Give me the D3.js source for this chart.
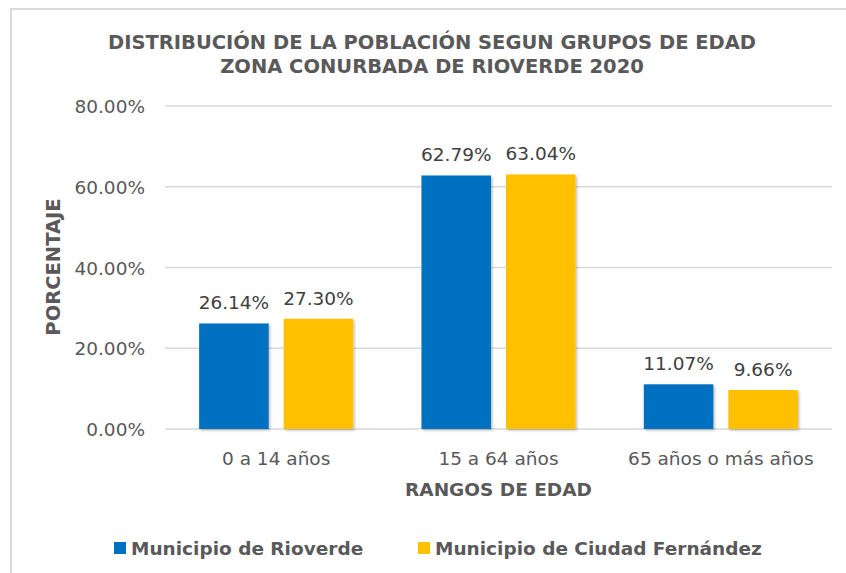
<!DOCTYPE html>
<html>
<head>
<meta charset="utf-8">
<script src="https://cdn.jsdelivr.net/npm/d3@7"></script>
<style>
  body { margin: 0; background: #fff; }
  text { font-family: "DejaVu Sans", sans-serif; }
</style>
</head>
<body>
<script>
// data
const categories = ['0 a 14 años', '15 a 64 años', '65 años o más años'];
const seriesNames = ['Municipio de Rioverde', 'Municipio de Ciudad Fernández'];
const rioverde = [26.14, 62.79, 11.07];
const ciudadFernandez = [27.30, 63.04, 9.66];
const yTicks = [0, 20, 40, 60, 80];
const colors = ['#0070C0', '#FFC000'];

const W = 846, H = 573;
const margin = { left: 165, right: 14, top: 106, bottom: 144 };

const svg = d3.select('body').append('svg')
    .attr('width', W)
    .attr('height', H);

// chart frame
svg.append('path')
    .attr('d', `M11,${H + 2} L11,9 L${W + 2},9`)
    .attr('fill', 'none')
    .attr('stroke', '#d9d9d9')
    .attr('stroke-width', 2);

const defs = svg.append('defs');
defs.append('filter').attr('id', 'shadow')
    .attr('x', '-10%').attr('y', '-10%').attr('width', '130%').attr('height', '130%')
  .append('feDropShadow')
    .attr('dx', 1.5).attr('dy', 1.5).attr('stdDeviation', 1.2)
    .attr('flood-color', '#000').attr('flood-opacity', 0.25);

const x0 = d3.scaleBand()
    .domain(categories)
    .range([margin.left, W - margin.right])
    .paddingInner(0.307)
    .paddingOuter(0.1535);

const x1 = d3.scaleBand()
    .domain(seriesNames)
    .range([0, x0.bandwidth()])
    .paddingInner(0.1775);

const y = d3.scaleLinear()
    .domain([0, 80])
    .range([H - margin.bottom, margin.top]);

// gridlines
svg.append('g')
  .selectAll('line')
  .data(yTicks)
  .join('line')
    .attr('x1', margin.left)
    .attr('x2', W - margin.right)
    .attr('y1', d => y(d))
    .attr('y2', d => y(d))
    .attr('stroke', '#d9d9d9')
    .attr('stroke-width', 1.5);

// y axis labels
svg.append('g')
  .selectAll('text')
  .data(yTicks)
  .join('text')
    .attr('x', 145)
    .attr('y', d => y(d) + 7)
    .attr('text-anchor', 'end')
    .attr('fill', '#595959')
    .style('font-size', '18.5px')
    .text(d => d.toFixed(2) + '%');

// bars
const rows = categories.map((c, i) => ({
  cat: c,
  values: [rioverde[i], ciudadFernandez[i]]
}));

const groups = svg.append('g')
  .selectAll('g')
  .data(rows)
  .join('g')
    .attr('transform', d => `translate(${x0(d.cat)},0)`);

groups.selectAll('rect')
  .data(d => d.values.map((v, j) => ({ name: seriesNames[j], v, j })))
  .join('rect')
    .attr('x', d => x1(d.name))
    .attr('width', x1.bandwidth())
    .attr('y', d => y(d.v))
    .attr('height', d => y(0) - y(d.v))
    .attr('fill', d => colors[d.j])
    .attr('filter', 'url(#shadow)');

groups.selectAll('text')
  .data(d => d.values.map((v, j) => ({ name: seriesNames[j], v, j })))
  .join('text')
    .attr('x', d => x1(d.name) + x1.bandwidth() / 2)
    .attr('y', d => y(d.v) - 14)
    .attr('text-anchor', 'middle')
    .attr('fill', '#404040')
    .style('font-size', '18.5px')
    .text(d => d.v.toFixed(2) + '%');

// x axis labels
svg.append('g')
  .selectAll('text')
  .data(categories)
  .join('text')
    .attr('x', d => x0(d) + x0.bandwidth() / 2)
    .attr('y', 465)
    .attr('text-anchor', 'middle')
    .attr('fill', '#595959')
    .style('font-size', '18.5px')
    .text(d => d);

// axis titles
svg.append('text')
    .attr('x', (margin.left + W - margin.right) / 2)
    .attr('y', 496)
    .attr('text-anchor', 'middle')
    .attr('fill', '#595959')
    .style('font-size', '18.5px')
    .style('font-weight', 'bold')
    .text('RANGOS DE EDAD');

svg.append('text')
    .attr('transform', 'translate(60,267) rotate(-90)')
    .attr('text-anchor', 'middle')
    .attr('fill', '#595959')
    .style('font-size', '19.5px')
    .style('font-weight', 'bold')
    .text('PORCENTAJE');

// title
const title = svg.append('text')
    .attr('text-anchor', 'middle')
    .attr('fill', '#595959')
    .style('font-size', '19.5px')
    .style('font-weight', 'bold');
title.append('tspan').attr('x', 432).attr('y', 49)
    .text('DISTRIBUCIÓN DE LA POBLACIÓN SEGUN GRUPOS DE EDAD');
title.append('tspan').attr('x', 432).attr('y', 73)
    .text('ZONA CONURBADA DE RIOVERDE 2020');

// legend
const legendX = [114, 418];
const legend = svg.append('g')
  .selectAll('g')
  .data(seriesNames)
  .join('g')
    .attr('transform', (d, i) => `translate(${legendX[i]},542)`);

legend.append('rect')
    .attr('width', 12)
    .attr('height', 12)
    .attr('fill', (d, i) => colors[i]);

legend.append('text')
    .attr('x', 17)
    .attr('y', 13)
    .attr('fill', '#595959')
    .style('font-size', '18.5px')
    .style('font-weight', 'bold')
    .text(d => d);
</script>
</body>
</html>
